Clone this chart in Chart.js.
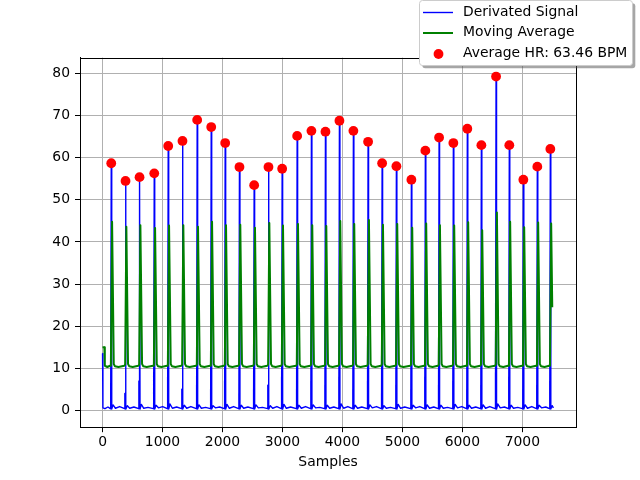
<!DOCTYPE html>
<html><head><meta charset="utf-8">
<script src="https://cdn.jsdelivr.net/npm/chart.js@4.4.1/dist/chart.umd.min.js"></script>
<style>html,body{margin:0;padding:0;background:#fff;}canvas{display:block;}</style>
</head><body>
<canvas id="c" width="640" height="480"></canvas>
<script>
// ---- data ----
const seriesLabels = ['Derivated Signal', 'Moving Average', 'Average HR: 63.46 BPM'];
const xAxisTitle = 'Samples';
const xTickValues = [0, 1000, 2000, 3000, 4000, 5000, 6000, 7000];
const yTickValues = [0, 10, 20, 30, 40, 50, 60, 70, 80];

// detected R peaks (sample index, value of derivated signal)
const peakSamples = [145, 383, 617, 862, 1095, 1333, 1578, 1812, 2045, 2283, 2528, 2767, 2995, 3245, 3483, 3717,
  3950, 4183, 4428, 4662, 4900, 5150, 5383, 5612, 5850, 6083, 6317, 6562, 6783, 7017, 7250, 7467];
const peakValues = [58.7, 54.5, 55.4, 56.3, 62.8, 64.0, 69.0, 67.3, 63.5, 57.8, 53.5, 57.8, 57.4, 65.2, 66.4, 66.2,
  68.8, 66.4, 63.8, 58.7, 58.0, 54.8, 61.7, 64.8, 63.5, 66.9, 63.0, 79.3, 63.0, 54.8, 57.9, 62.1];

// derivated signal [sample, value]
const derivatedSignal = [
  [0,13.5],[6,0.6],[40,0.4],[90,0.8],
  [131,0.4],[134,6],[137,0.5],[145,58.7],[153,0.3],[175,1.3],[215,0.5],[285,0.9],
  [369,0.4],[372,4],[375,0.5],[383,54.5],[391,0.3],[413,1.1],[453,0.5],[523,0.8],
  [603,0.4],[606,7],[609,0.5],[617,55.4],[625,0.3],[647,1.4],[687,0.5],[757,0.7],
  [848,0.4],[851,9],[854,0.5],[862,56.3],[870,0.3],[892,1.2],[932,0.6],[1002,0.9],
  [1081,0.4],[1084,8],[1087,0.5],[1095,62.8],[1103,0.3],[1125,1.5],[1165,0.5],[1235,0.8],
  [1319,0.4],[1322,5],[1325,0.5],[1333,64.0],[1341,0.3],[1363,1.2],[1403,0.5],[1473,0.9],
  [1564,0.4],[1567,6],[1570,0.5],[1578,69.0],[1586,0.3],[1608,1.3],[1648,0.5],[1718,0.7],
  [1798,0.4],[1801,5],[1804,0.5],[1812,67.3],[1820,0.3],[1842,1.1],[1882,0.6],[1952,0.8],
  [2031,0.4],[2034,7],[2037,0.5],[2045,63.5],[2053,0.3],[2075,1.4],[2115,0.5],[2185,0.9],
  [2269,0.4],[2272,4],[2275,0.5],[2283,57.8],[2291,0.3],[2313,1.2],[2353,0.5],[2423,0.8],
  [2514,0.4],[2517,5],[2520,0.5],[2528,53.5],[2536,0.3],[2558,1.3],[2598,0.6],[2668,0.7],
  [2753,0.4],[2756,6],[2759,0.5],[2767,57.8],[2775,0.3],[2797,1.1],[2837,0.5],[2907,0.9],
  [2981,0.4],[2984,8],[2987,0.5],[2995,57.4],[3003,0.3],[3025,1.4],[3065,0.5],[3135,0.8],
  [3231,0.4],[3234,5],[3237,0.5],[3245,65.2],[3253,0.3],[3275,1.2],[3315,0.5],[3385,0.9],
  [3469,0.4],[3472,7],[3475,0.5],[3483,66.4],[3491,0.3],[3513,1.3],[3553,0.6],[3623,0.7],
  [3703,0.4],[3706,6],[3709,0.5],[3717,66.2],[3725,0.3],[3747,1.2],[3787,0.5],[3857,0.8],
  [3936,0.4],[3939,8],[3942,0.5],[3950,68.8],[3958,0.3],[3980,1.5],[4020,0.5],[4090,0.9],
  [4169,0.4],[4172,5],[4175,0.5],[4183,66.4],[4191,0.3],[4213,1.2],[4253,0.5],[4323,0.8],
  [4414,0.4],[4417,7],[4420,0.5],[4428,63.8],[4436,0.3],[4458,1.3],[4498,0.6],[4568,0.9],
  [4648,0.4],[4651,4],[4654,0.5],[4662,58.7],[4670,0.3],[4692,1.1],[4732,0.5],[4802,0.7],
  [4886,0.4],[4889,6],[4892,0.5],[4900,58.0],[4908,0.3],[4930,1.4],[4970,0.5],[5040,0.8],
  [5136,0.4],[5139,5],[5142,0.5],[5150,54.8],[5158,0.3],[5180,1.2],[5220,0.6],[5290,0.9],
  [5369,0.4],[5372,8],[5375,0.5],[5383,61.7],[5391,0.3],[5413,1.3],[5453,0.5],[5523,0.8],
  [5598,0.4],[5601,6],[5604,0.5],[5612,64.8],[5620,0.3],[5642,1.2],[5682,0.5],[5752,0.7],
  [5836,0.4],[5839,7],[5842,0.5],[5850,63.5],[5858,0.3],[5880,1.4],[5920,0.6],[5990,0.9],
  [6069,0.4],[6072,5],[6075,0.5],[6083,66.9],[6091,0.3],[6113,1.2],[6153,0.5],[6223,0.8],
  [6303,0.4],[6306,6],[6309,0.5],[6317,63.0],[6325,0.3],[6347,1.3],[6387,0.5],[6457,0.9],
  [6548,0.4],[6551,9],[6554,0.5],[6562,79.3],[6570,0.3],[6592,1.5],[6632,0.6],[6702,0.8],
  [6769,0.4],[6772,8],[6775,0.5],[6783,63.0],[6791,0.3],[6813,1.2],[6853,0.5],[6923,0.7],
  [7003,0.4],[7006,5],[7009,0.5],[7017,54.8],[7025,0.3],[7047,1.3],[7087,0.5],[7157,0.9],
  [7236,0.4],[7239,6],[7242,0.5],[7250,57.9],[7258,0.3],[7280,1.2],[7320,0.6],[7390,0.8],
  [7453,0.4],[7456,7],[7459,0.5],[7467,62.1],[7475,0.3],[7497,1.1],[7519,0.6]
];

// moving average [sample, value]
const movingAverage = [
  [0,15.0],[30,15.0],[38,10.6],[80,10.3],
  [125,10.6],[139,10.9],[159,44.8],[187,11.0],[207,10.5],[265,10.3],
  [363,10.6],[377,10.9],[397,43.6],[425,11.0],[445,10.5],[503,10.3],
  [597,10.6],[611,10.9],[631,44.0],[659,11.0],[679,10.5],[737,10.3],
  [842,10.6],[856,10.9],[876,43.3],[904,11.0],[924,10.5],[982,10.3],
  [1075,10.6],[1089,10.9],[1109,43.9],[1137,11.0],[1157,10.5],[1215,10.3],
  [1313,10.6],[1327,10.9],[1347,44.0],[1375,11.0],[1395,10.5],[1453,10.3],
  [1558,10.6],[1572,10.9],[1592,43.6],[1620,11.0],[1640,10.5],[1698,10.3],
  [1792,10.6],[1806,10.9],[1826,44.8],[1854,11.0],[1874,10.5],[1932,10.3],
  [2025,10.6],[2039,10.9],[2059,44.0],[2087,11.0],[2107,10.5],[2165,10.3],
  [2263,10.6],[2277,10.9],[2297,44.1],[2325,11.0],[2345,10.5],[2403,10.3],
  [2508,10.6],[2522,10.9],[2542,43.4],[2570,11.0],[2590,10.5],[2648,10.3],
  [2747,10.6],[2761,10.9],[2781,44.5],[2809,11.0],[2829,10.5],[2887,10.3],
  [2975,10.6],[2989,10.9],[3009,43.9],[3037,11.0],[3057,10.5],[3115,10.3],
  [3225,10.6],[3239,10.9],[3259,44.3],[3287,11.0],[3307,10.5],[3365,10.3],
  [3463,10.6],[3477,10.9],[3497,44.0],[3525,11.0],[3545,10.5],[3603,10.3],
  [3697,10.6],[3711,10.9],[3731,43.8],[3759,11.0],[3779,10.5],[3837,10.3],
  [3930,10.6],[3944,10.9],[3964,45.0],[3992,11.0],[4012,10.5],[4070,10.3],
  [4163,10.6],[4177,10.9],[4197,44.3],[4225,11.0],[4245,10.5],[4303,10.3],
  [4408,10.6],[4422,10.9],[4442,45.2],[4470,11.0],[4490,10.5],[4548,10.3],
  [4642,10.6],[4656,10.9],[4676,44.1],[4704,11.0],[4724,10.5],[4782,10.3],
  [4880,10.6],[4894,10.9],[4914,44.3],[4942,11.0],[4962,10.5],[5020,10.3],
  [5130,10.6],[5144,10.9],[5164,43.4],[5192,11.0],[5212,10.5],[5270,10.3],
  [5363,10.6],[5377,10.9],[5397,44.4],[5425,11.0],[5445,10.5],[5503,10.3],
  [5592,10.6],[5606,10.9],[5626,44.0],[5654,11.0],[5674,10.5],[5732,10.3],
  [5830,10.6],[5844,10.9],[5864,43.9],[5892,11.0],[5912,10.5],[5970,10.3],
  [6063,10.6],[6077,10.9],[6097,44.7],[6125,11.0],[6145,10.5],[6203,10.3],
  [6297,10.6],[6311,10.9],[6331,42.8],[6359,11.0],[6379,10.5],[6437,10.3],
  [6542,10.6],[6556,10.9],[6576,47.0],[6604,11.0],[6624,10.5],[6682,10.3],
  [6763,10.6],[6777,10.9],[6797,44.8],[6825,11.0],[6845,10.5],[6903,10.3],
  [6997,10.6],[7011,10.9],[7031,43.5],[7059,11.0],[7079,10.5],[7137,10.3],
  [7230,10.6],[7244,10.9],[7264,44.6],[7292,11.0],[7312,10.5],[7370,10.3],
  [7447,10.6],[7461,10.9],[7481,44.4],[7499,24.5]
];

// ---- drawing ----
const FONT = 'DejaVu Sans';
const FS = 13.9;
const colors = ['#0000ff', '#008000', '#ff0000'];

function rr(ctx, x, y, w, h, r) {
  ctx.beginPath();
  ctx.moveTo(x + r, y);
  ctx.lineTo(x + w - r, y);
  ctx.quadraticCurveTo(x + w, y, x + w, y + r);
  ctx.lineTo(x + w, y + h - r);
  ctx.quadraticCurveTo(x + w, y + h, x + w - r, y + h);
  ctx.lineTo(x + r, y + h);
  ctx.quadraticCurveTo(x, y + h, x, y + h - r);
  ctx.lineTo(x, y + r);
  ctx.quadraticCurveTo(x, y, x + r, y);
  ctx.closePath();
}

const framePlugin = {
  id: 'frame',
  afterDatasetsDraw(chart) {
    const {ctx, chartArea: a} = chart;
    ctx.save();
    ctx.strokeStyle = '#000';
    ctx.lineWidth = 1;
    ctx.strokeRect(Math.round(a.left) + 0.5, Math.round(a.top) + 0.5,
      Math.round(a.right) - Math.round(a.left), Math.round(a.bottom) - Math.round(a.top));
    ctx.restore();
  }
};

const legendPlugin = {
  id: 'mplLegend',
  afterDraw(chart) {
    const ctx = chart.ctx;
    const ds = chart.data.datasets;
    const items = [ds[2], ds[1], ds[0]]; // blue, green, red
    ctx.save();
    const bx = 419.5, by = 0.5, bw = 213, bh = 65, r = 3;
    ctx.fillStyle = 'rgba(77,77,77,0.5)';
    rr(ctx, bx + 2.8, by + 2.8, bw, bh, r); ctx.fill();
    ctx.fillStyle = '#ffffff';
    rr(ctx, bx, by, bw, bh, r); ctx.fill();
    ctx.strokeStyle = '#cccccc'; ctx.lineWidth = 1; ctx.stroke();
    const rows = [12, 32.5, 53];
    ctx.font = FS + 'px "' + FONT + '"';
    ctx.textBaseline = 'middle';
    ctx.textAlign = 'left';
    items.forEach((d, i) => {
      const y = rows[i];
      if (d.showLine !== false) {
        ctx.strokeStyle = d.borderColor;
        ctx.lineWidth = d.borderWidth;
        ctx.beginPath(); ctx.moveTo(423, y + 0.5); ctx.lineTo(453, y + 0.5); ctx.stroke();
      } else {
        ctx.fillStyle = d.pointBackgroundColor;
        ctx.beginPath(); ctx.arc(438.5, y + 1, d.pointRadius, 0, Math.PI * 2); ctx.fill();
      }
      ctx.fillStyle = '#000';
      ctx.fillText(d.label, 463, y);
    });
    ctx.restore();
  }
};

const toXY = arr => arr.map(p => ({x: p[0], y: p[1]}));

new Chart(document.getElementById('c'), {
  type: 'line',
  data: {
    datasets: [
      {
        label: seriesLabels[2],
        data: peakSamples.map((s, i) => ({x: s, y: peakValues[i]})),
        showLine: false,
        pointRadius: 4.9,
        pointBackgroundColor: colors[2],
        pointBorderColor: colors[2],
        pointBorderWidth: 0,
        borderColor: colors[2],
        backgroundColor: colors[2],
        order: 1
      },
      {
        label: seriesLabels[1],
        data: toXY(movingAverage),
        borderColor: colors[1],
        backgroundColor: colors[1],
        borderWidth: 2,
        pointRadius: 0,
        tension: 0,
        fill: false,
        borderJoinStyle: 'round',
        order: 2
      },
      {
        label: seriesLabels[0],
        data: toXY(derivatedSignal),
        borderColor: colors[0],
        backgroundColor: colors[0],
        borderWidth: 1.4,
        pointRadius: 0,
        tension: 0,
        fill: false,
        borderJoinStyle: 'round',
        order: 3
      }
    ]
  },
  options: {
    responsive: false,
    devicePixelRatio: 1,
    animation: false,
    events: [],
    layout: {padding: {top: 57.6, right: 64, left: 0, bottom: 0}},
    plugins: {legend: {display: false}, tooltip: {enabled: false}, title: {display: false}},
    scales: {
      x: {
        type: 'linear',
        min: -376, max: 7895,
        afterFit: s => { s.height = 52.8; },
        afterBuildTicks: s => { s.ticks = xTickValues.map(v => ({value: v})); },
        grid: {color: '#b0b0b0', lineWidth: 1, tickColor: '#000', tickLength: 5, tickWidth: 1},
        border: {display: true, color: '#000', width: 1},
        ticks: {color: '#000', font: {family: FONT, size: FS}, padding: 1.5, maxRotation: 0, autoSkip: false,
                callback: v => String(v)},
        title: {display: true, text: xAxisTitle, color: '#000', font: {family: FONT, size: FS},
                padding: {top: 0, bottom: 9}}
      },
      y: {
        type: 'linear',
        min: -4.0, max: 83.8,
        afterFit: s => { s.width = 80; },
        afterBuildTicks: s => { s.ticks = yTickValues.map(v => ({value: v})); },
        grid: {color: '#b0b0b0', lineWidth: 1, tickColor: '#000', tickLength: 5, tickWidth: 1},
        border: {display: true, color: '#000', width: 1},
        ticks: {color: '#000', font: {family: FONT, size: FS}, padding: 5, autoSkip: false,
                callback: v => String(v)}
      }
    }
  },
  plugins: [framePlugin, legendPlugin]
});
</script>
</body></html>
